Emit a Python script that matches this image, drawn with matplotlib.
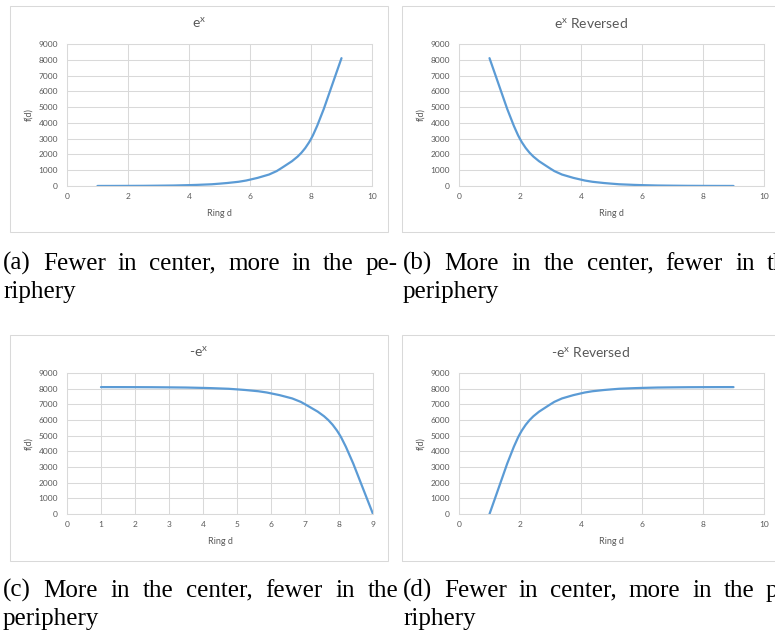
import numpy as np
import matplotlib
matplotlib.use('Agg')
import matplotlib.pyplot as plt
from matplotlib.path import Path
from matplotlib.patches import PathPatch, Rectangle

# data (values at ring d = 1..9)
ring = [1, 2, 3, 4, 5, 6, 7, 8, 9]
exp_vals = [3, 7, 20, 55, 148, 403, 1097, 2981, 8103]
exp_rev = [8103, 2981, 1097, 403, 148, 55, 20, 7, 3]
neg_exp = [8100, 8096, 8083, 8048, 7955, 7700, 7006, 5122, 0]
neg_exp_rev = [0, 5122, 7006, 7700, 7955, 8048, 8083, 8096, 8100]

titles = ['e$^{x}$', 'e$^{x}$ Reversed', '-e$^{x}$', '-e$^{x}$ Reversed']
series = [exp_vals, exp_rev, neg_exp, neg_exp_rev]
x_max = [10, 10, 9, 10]
x_step = [2, 2, 1, 2]
captions = [
    ['(a) Fewer in center, more in the pe-', 'riphery'],
    ['(b) More in the center, fewer in the', 'periphery'],
    ['(c) More in the center, fewer in the', 'periphery'],
    ['(d) Fewer in center, more in the pe-', 'riphery'],
]

W, H = 775, 633
plt.rcParams['font.family'] = ['Lato', 'DejaVu Sans']
plt.rcParams['mathtext.default'] = 'regular'

BLUE = '#5B9BD5'
GRID = '#D9D9D9'
TXT = '#595959'

fig = plt.figure(figsize=(W / 100, H / 100), dpi=100)


def fx(x):
    return x / W


def fy(y):
    return 1 - y / H


def smooth_path(xs, ys):
    # Excel-style smoothed line: cubic bezier through the data points
    pts = np.column_stack([xs, ys]).astype(float)
    ext = np.vstack([pts[0], pts, pts[-1]])
    verts = [pts[0]]
    codes = [Path.MOVETO]
    for i in range(len(pts) - 1):
        p0, p1, p2, p3 = ext[i], ext[i + 1], ext[i + 2], ext[i + 3]
        verts += [p1 + (p2 - p0) / 6, p2 - (p3 - p1) / 6, p2]
        codes += [Path.CURVE4] * 3
    return Path(verts, codes)


# layout in pixels: chart box (x0, y0, x1, y1), plot area (x0, y0, x1, y1)
boxes = [(10, 6, 388, 232), (402, 6, 780, 232), (10, 335, 388, 561), (402, 335, 780, 561)]
plots = [(67, 44, 372, 186), (459, 44, 764, 186), (67, 373, 373, 514), (459, 373, 764, 514)]

for i in range(4):
    bx0, by0, bx1, by1 = boxes[i]
    px0, py0, px1, py1 = plots[i]
    fig.add_artist(Rectangle((fx(bx0), fy(by1)), (bx1 - bx0) / W, (by1 - by0) / H,
                             transform=fig.transFigure, fill=False, ec=GRID, lw=0.75))
    ax = fig.add_axes([fx(px0), fy(py1), (px1 - px0) / W, (py1 - py0) / H])
    ax.set_xlim(0, x_max[i])
    ax.set_ylim(0, 9000)
    ax.set_xticks(np.arange(0, x_max[i] + 1, x_step[i]))
    ax.set_yticks(np.arange(0, 9001, 1000))
    ax.grid(True, color=GRID, lw=0.75)
    ax.set_axisbelow(True)
    for s in ax.spines.values():
        s.set_color(GRID)
        s.set_linewidth(0.75)
    ax.tick_params(length=0, labelsize=6, colors=TXT)
    ax.tick_params(axis='y', pad=6.5)
    ax.tick_params(axis='x', pad=5)
    ax.add_patch(PathPatch(smooth_path(ring, series[i]), fill=False, ec=BLUE, lw=1.6,
                           capstyle='round', joinstyle='round'))

    cx = (bx0 + bx1) / 2
    fig.text(fx(cx), fy(by0 + 17), titles[i], ha='center', va='center', fontsize=10, color=TXT)
    fig.text(fx((px0 + px1) / 2), fy(by0 + 207), 'Ring d', ha='center', va='center',
             fontsize=6.5, color=TXT)
    fig.text(fx(bx0 + 19), fy((py0 + py1) / 2), 'f(d)', ha='center', va='center',
             rotation=90, fontsize=6.5, color=TXT)

# captions, justified like the LaTeX subcaptions
serif = ['Liberation Serif', 'DejaVu Serif']
cap_x = [(3, 398), (403, 798), (3, 398), (403, 798)]
cap_y = [270, 270, 597, 597]
renderer = fig.canvas.get_renderer()
for i in range(4):
    x0, x1 = cap_x[i]
    words = captions[i][0].split(' ')
    texts = [fig.text(0, fy(cap_y[i]), w, fontsize=18, family=serif, va='baseline')
             for w in words]
    widths = [t.get_window_extent(renderer).width for t in texts]
    gap = (x1 - x0 - sum(widths)) / (len(words) - 1)
    x = x0
    for t, w in zip(texts, widths):
        t.set_x(fx(x))
        x += w + gap
    fig.text(fx(x0), fy(cap_y[i] + 28), captions[i][1], fontsize=18, family=serif,
             va='baseline')

fig.savefig('out.png', dpi=100)
